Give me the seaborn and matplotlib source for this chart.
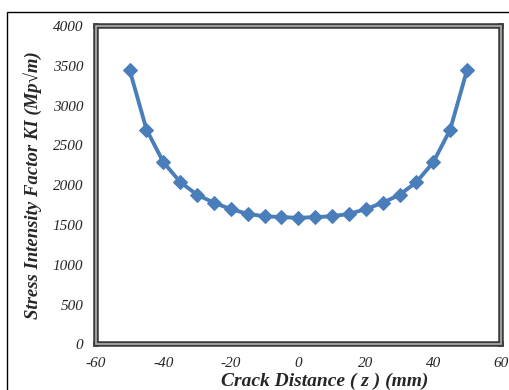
import numpy as np
import pandas as pd
import matplotlib
matplotlib.use("Agg")
import matplotlib.pyplot as plt
import seaborn as sns
from matplotlib.patches import Rectangle

distancia = [-50, -45, -40, -35, -30, -25, -20, -15, -10, -5, 0,
             5, 10, 15, 20, 25, 30, 35, 40, 45, 50]
ki = [3450, 2700, 2290, 2040, 1880, 1780, 1700, 1640, 1610, 1600, 1590,
      1600, 1610, 1640, 1700, 1780, 1880, 2040, 2290, 2700, 3450]
x_ticks = [-60, -40, -20, 0, 20, 40, 60]
y_ticks = [0, 500, 1000, 1500, 2000, 2500, 3000, 3500, 4000]

dados = pd.DataFrame({'z': distancia, 'KI': ki})

sns.set_style('white')
plt.rcParams['font.family'] = ['Liberation Serif', 'DejaVu Serif']

fig = plt.figure(figsize=(5.1, 3.9), dpi=100)
ax = fig.add_axes([0.188, 0.117, 0.794, 0.816])

sns.lineplot(data=dados, x='z', y='KI', ax=ax, color='#4a7ebb', linewidth=2.8,
             marker='D', markersize=7, markeredgecolor='#4a7ebb')

ax.set_xlim(-60, 60)
ax.set_ylim(0, 4000)
ax.set_xticks(x_ticks)
ax.set_yticks(y_ticks)
ax.set_xticklabels([str(t) for t in x_ticks], fontstyle='italic', fontsize=11)
ax.set_yticklabels([str(t) for t in y_ticks], fontstyle='italic', fontsize=11)
ax.tick_params(length=0, pad=9)

ax.set_xlabel('Crack Distance ( z ) (mm)', fontsize=14, fontweight='bold',
              fontstyle='italic', labelpad=2)
ax.xaxis.set_label_coords(0.565, -0.09)
ax.set_ylabel('Stress Intensity Factor KI (Mp\u221am)', fontsize=13.5,
              fontweight='bold', fontstyle='italic', labelpad=8)

# moldura dupla
for s in ax.spines.values():
    s.set_linewidth(4)
    s.set_color('#3c3c3c')
ax.add_patch(Rectangle((0, 0), 1, 1, transform=ax.transAxes, fill=False,
                       edgecolor='#b0b0b0', linewidth=1.2, clip_on=False, zorder=5))

# borda externa
fig.add_artist(Rectangle((7 / 510, -0.1), 1.2, 1 - 12 / 390 + 0.1,
                         transform=fig.transFigure, fill=False,
                         edgecolor='black', linewidth=1))

fig.savefig('out.png', dpi=100)
